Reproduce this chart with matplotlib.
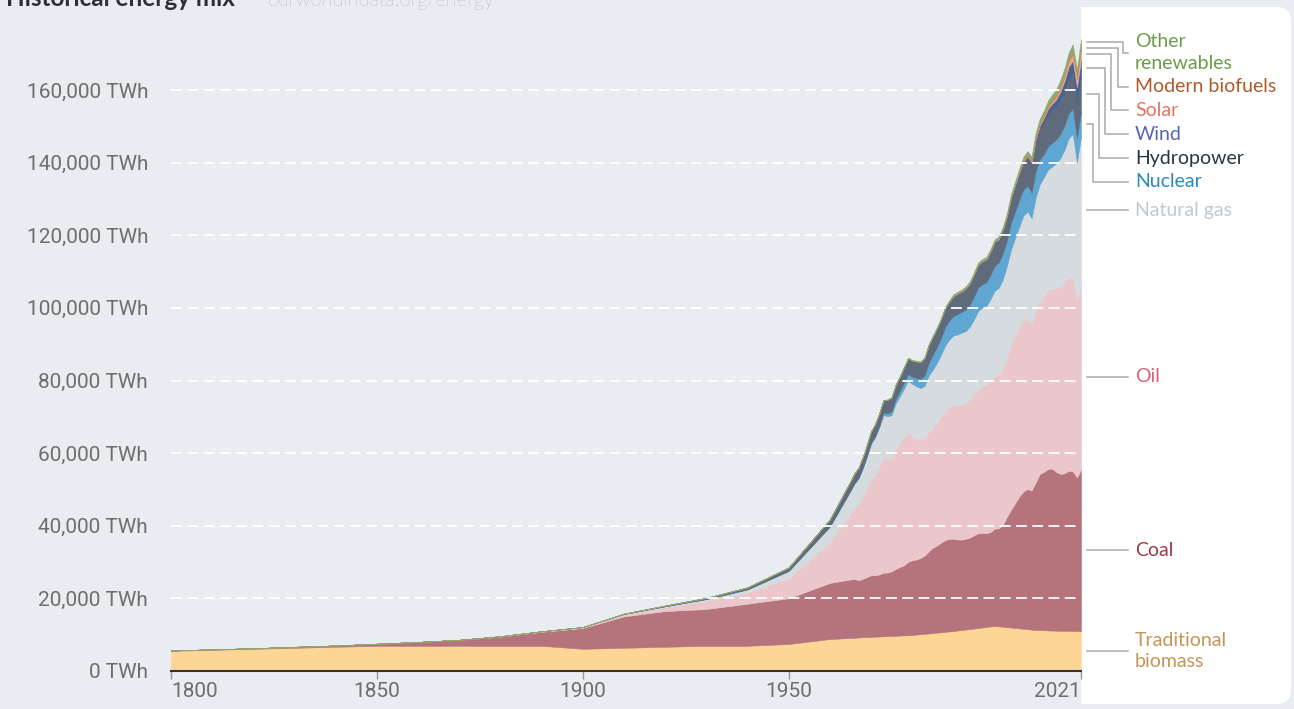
import numpy as np
import matplotlib.pyplot as plt
from matplotlib import font_manager
from matplotlib.patches import FancyBboxPatch, Rectangle
from matplotlib.lines import Line2D

# global primary energy by source, TWh (substitution method)
early_years = [1800, 1810, 1820, 1830, 1840, 1850, 1860, 1870, 1880, 1890,
               1900, 1910, 1920, 1930, 1940, 1950, 1960]
years = early_years + list(range(1965, 2022))

biomass = [5560, 5830, 6110, 6390, 6670, 6940, 6940, 6940, 6940, 6940,
           6110, 6390, 6670, 6940, 6940, 7440, 8800,
           9100, 9150, 9220, 9290, 9340, 9400, 9450, 9500, 9560, 9600,
           9650, 9700, 9760, 9800, 9850, 9900, 10020, 10130, 10230, 10340,
           10450, 10560, 10670, 10780, 10900, 11000, 11140, 11280, 11420, 11560,
           11700, 11840, 11980, 12120, 12260, 12400, 12290, 12180, 12070, 11960,
           11850, 11740, 11630, 11520, 11410, 11300, 11260, 11220, 11180, 11140,
           11100, 11080, 11060, 11040, 11020, 11000, 11000]
coal = [97, 128, 153, 264, 356, 569, 1061, 1642, 2542, 3856,
        5728, 8656, 9833, 10125, 11586, 12603, 15442,
        16100, 16200, 15800, 16100, 16500, 17000, 16900, 17100, 17500, 17500,
        17800, 18400, 18900, 19300, 20200, 20600, 20700, 21000, 21500, 22600,
        23500, 24000, 24700, 25300, 25500, 25400, 25100, 24900, 25000, 25200,
        25700, 26100, 26000, 25800, 26000, 26800, 27000, 28000, 30400, 32500,
        34400, 36300, 37800, 38600, 38300, 40600, 43000, 43600, 44500, 44600,
        43700, 43200, 43400, 44100, 44000, 42300, 44500]
oil = [0, 0, 0, 0, 0, 0, 0, 6, 33, 89,
       181, 511, 1097, 2139, 3089, 5444, 11097,
       18100, 19400, 20700, 22400, 24300, 26400, 27600, 29500, 31800, 31300,
       31100, 33000, 34100, 35200, 35800, 34300, 33300, 32400, 32200, 32800,
       32900, 33900, 34600, 35700, 36300, 36800, 36800, 37300, 37200, 38000,
       38600, 39500, 40500, 40700, 41600, 42000, 42300, 42900, 43700, 45300,
       46000, 46500, 47100, 46700, 46000, 47400, 47900, 48500, 49200, 49600,
       50600, 51600, 52500, 53100, 53600, 48400, 51200]
gas = [0, 0, 0, 0, 0, 0, 0, 0, 64, 64,
       64, 142, 233, 603, 875, 2092, 4472,
       6300, 6900, 7400, 8100, 8900, 9800, 10400, 11000, 11600, 11800,
       11900, 12600, 12900, 13400, 14100, 14300, 14400, 14400, 14600, 15600,
       16100, 16400, 17100, 17800, 18600, 19200, 19600, 19700, 20000, 20100,
       20800, 21700, 21600, 21900, 22500, 23500, 23900, 24700, 25400, 26300,
       27000, 27800, 28900, 29700, 29000, 31100, 31900, 32700, 33200, 33600,
       34400, 35400, 36600, 38500, 39300, 38400, 40400]
nuclear = [0] * 16 + [7,
           70, 90, 110, 140, 170, 220, 310, 400, 560, 760,
           1050, 1230, 1460, 1690, 1800, 1960, 2300, 2520, 2870, 3470,
           4100, 4360, 4700, 5050, 5150, 5400, 5650, 5700, 5900, 6000,
           6250, 6500, 6400, 6500, 6750, 6850, 7050, 7150, 7050, 7350,
           7350, 7400, 7200, 7150, 7050, 7200, 6900, 6400, 6450, 6550,
           6600, 6650, 6700, 6850, 7000, 6750, 6950]
hydro = [0] * 10 + [20, 90, 190, 330, 540, 930, 1900,
         2550, 2700, 2760, 2880, 3040, 3150, 3300, 3420, 3480, 3750,
         3800, 3850, 3950, 4200, 4380, 4450, 4520, 4650, 4800, 4950,
         5050, 5120, 5150, 5300, 5280, 5450, 5600, 5600, 5850, 5900,
         6150, 6200, 6300, 6320, 6350, 6500, 6300, 6400, 6450, 6800,
         7000, 7200, 7300, 7600, 7600, 8100, 8200, 8600, 8800, 9000,
         9000, 9300, 9400, 9600, 9700, 10000, 9850]
wind = [0] * 17 + [0] * 25 + [10, 11, 13, 16, 20,
        23, 28, 34, 48, 58, 80, 100, 135, 165, 220,
        270, 350, 440, 570, 720, 880, 1100, 1310, 1560, 1740,
        2100, 2430, 2860, 3170, 3540, 3950, 4600]
solar = [0] * 17 + [0] * 35 + [3, 4, 5, 6, 8,
         10, 14, 20, 33, 53, 85, 170, 260, 350, 480,
         650, 850, 1130, 1440, 1790, 2170, 2700]
biofuels = [0] * 17 + [0] * 25 + [100, 100, 100, 105, 110,
            115, 120, 125, 120, 120, 125, 130, 150, 175, 200,
            230, 290, 370, 480, 530, 610, 630, 640, 700, 760,
            790, 820, 870, 950, 1010, 940, 1020]
other = [0] * 17 + [60, 65, 70, 75, 80, 90, 95, 100, 110, 115,
         120, 130, 140, 150, 160, 170, 190, 210, 240, 270,
         300, 320, 340, 360, 380, 400, 410, 420, 430, 440,
         450, 470, 490, 510, 530, 560, 580, 600, 640, 680,
         720, 760, 810, 860, 920, 1000, 1070, 1130, 1200, 1270,
         1350, 1420, 1500, 1560, 1620, 1700, 1800]

series = [biomass, coal, oil, gas, nuclear, hydro, wind, solar, biofuels, other]
names = ["Traditional\nbiomass", "Coal", "Oil", "Natural gas", "Nuclear",
         "Hydropower", "Wind", "Solar", "Modern biofuels", "Other\nrenewables"]
fill_colors = ["#fdd595", "#b5747b", "#ebc7cb", "#d6dbdf", "#5fa7d2",
               "#5f6b7c", "#4a6290", "#f0a48e", "#c88a5c", "#8aab6c"]
text_colors = ["#c39558", "#9c3a45", "#d6607a", "#c2c8ce", "#2b88c4",
               "#2b3442", "#5865b4", "#e4725e", "#b0582a", "#6b9a48"]
yticks = [0, 20000, 40000, 60000, 80000, 100000, 120000, 140000, 160000]
xticks = [1800, 1850, 1900, 1950, 2021]

W, H = 1294, 709
bg = "#e9ecf0"

# narrow font for the axis labels, if it is there
narrow = None
for f in font_manager.findSystemFonts():
    if "LiberationSansNarrow-Regular" in f:
        narrow = font_manager.FontProperties(fname=f, size=18.5)
if narrow is None:
    narrow = font_manager.FontProperties(family="Roboto", size=15)

fig = plt.figure(figsize=(W / 100, H / 100), dpi=100, facecolor=bg)
ax = fig.add_axes([171 / W, 38 / H, 910 / W, 653.6 / H])
ax.set_facecolor(bg)

ax.stackplot(years, *series, colors=fill_colors, linewidth=0.4,
             edgecolor="face")

ax.set_xlim(1800, 2021)
ax.set_ylim(0, 180000)
ax.set_yticks(yticks)
ax.set_yticklabels([f"{v:,} TWh" for v in yticks])
ax.set_xticks(xticks)
ax.set_xticklabels([str(x) for x in xticks])
ax.yaxis.grid(True, color="white", linestyle=(0, (6, 3)), linewidth=1.3)
for g in ax.get_ygridlines():
    g.set_zorder(3)
for s in ["top", "right", "left"]:
    ax.spines[s].set_visible(False)
ax.spines["bottom"].set_color("#3a3030")
ax.spines["bottom"].set_linewidth(1.5)
ax.spines["bottom"].set_zorder(4)
ax.tick_params(axis="y", length=0, pad=16.5, labelcolor="#6e6e6e")
ax.tick_params(axis="x", length=6, width=1, color="#999999", pad=2,
               labelcolor="#6e6e6e")
for lab in ax.get_xticklabels() + ax.get_yticklabels():
    lab.set_fontproperties(narrow)
# first and last year labels stay inside the plot width
xlabs = ax.get_xticklabels()
xlabs[0].set_horizontalalignment("left")
xlabs[-1].set_horizontalalignment("right")

# title (cut off at the top edge, as in the source image)
fig.text(6 / W, 1 - 6 / H, "Historical energy mix", fontsize=17.5,
         fontweight="bold", color="#2a2f3a", family="Lato", va="baseline")
fig.text(268 / W, 1 - 6 / H, "ourworldindata.org/energy", fontsize=14.3,
         fontweight="light", color="#8a8a8a", family="Lato", va="baseline")

# white label panel on the right
panel = FancyBboxPatch((1081, 5), 210, 697,
                       boxstyle="round,pad=0,rounding_size=14",
                       transform=None, facecolor="white", edgecolor="none",
                       zorder=-1)
fig.patches.append(panel)
fig.patches.append(Rectangle((1081, 5), 30, 697, transform=None,
                             facecolor="white", edgecolor="none", zorder=-1))

# band midpoints at the last year, in pixels from the top
last = np.array([s[-1] for s in series], dtype=float)
tops = np.cumsum(last)
mids = tops - last / 2
mid_px = [H - ax.transData.transform((2021, m))[1] for m in mids]

# stacked small labels get pushed apart
label_y = [mid_px[0], mid_px[1], mid_px[2], mid_px[3],
           181.7, 158.3, 134.3, 110, 86.7, 52.5]
elbow_x = [None, None, None, None, 1093, 1099, 1105, 1111, 1118, 1123]

lc = "#a8a8a8"
for i, name in enumerate(names):
    y0 = mid_px[i]
    y1 = label_y[i]
    if elbow_x[i] is None:
        xs, ys = [1087, 1128], [y0, y0]
    else:
        xs = [1087, elbow_x[i], elbow_x[i], 1128]
        ys = [y0, y0, y1, y1]
    fig.add_artist(Line2D([x / W for x in xs], [1 - y / H for y in ys],
                          color=lc, linewidth=1.1))
    fig.text(1135 / W, 1 - y1 / H, name, fontsize=14, family="Lato",
             color=text_colors[i], va="center", ha="left", linespacing=1.35)

fig.savefig("out.png", dpi=100, facecolor=bg)
